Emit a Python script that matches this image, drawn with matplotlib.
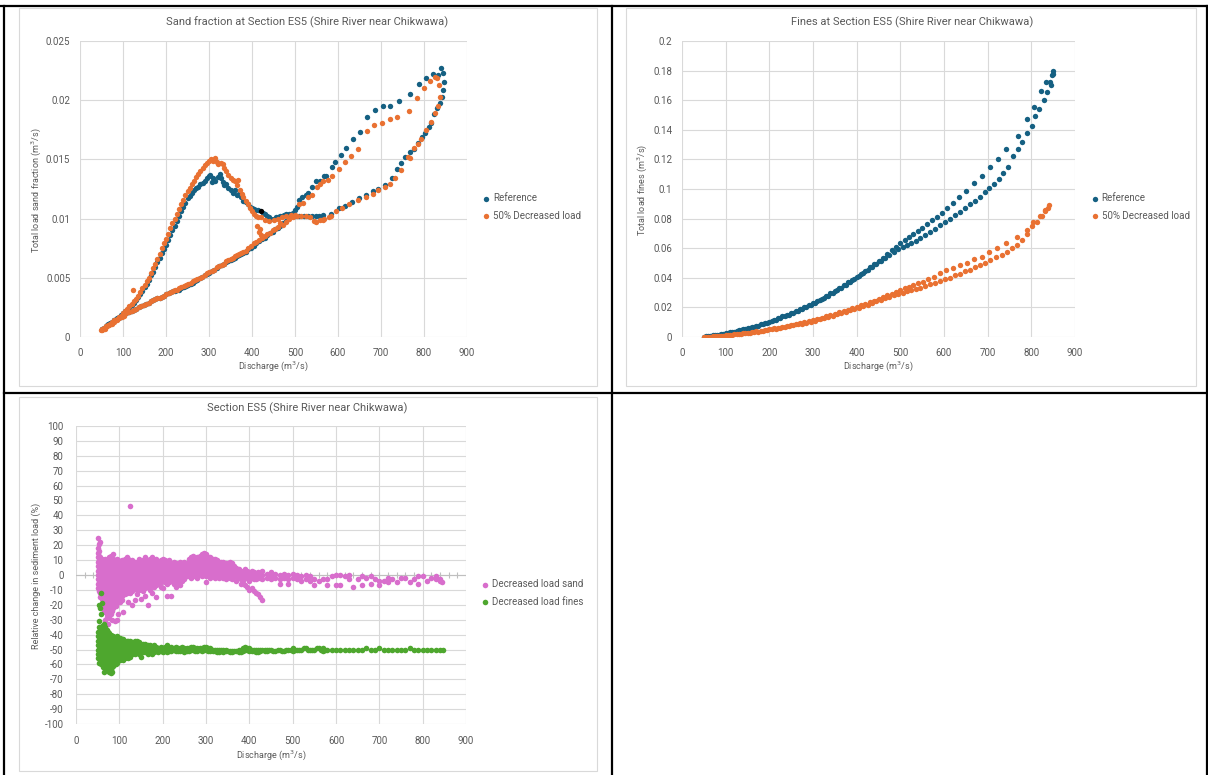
import numpy as np
import matplotlib
matplotlib.use("Agg")
import matplotlib.pyplot as plt
from matplotlib.lines import Line2D
from matplotlib.patches import Rectangle

plt.rcParams['font.family'] = ['Roboto', 'DejaVu Sans']

W, H = 1208, 775
TXT = '#595959'
GRID = '#d9d9d9'
C_REF = '#156082'
C_DEC = '#E97132'
C_SAND = '#D86ECC'
C_FINE = '#4EA72E'

# ---------------- sand fraction (m3/s) : (Q, value) ----------------
sand_ref = [
    (50, .0007), (55, .0008), (60, .0009), (65, .0011), (70, .0012), (75, .0013), (80, .0014), (85, .0016),
    (90, .0017), (95, .0019), (100, .0020), (105, .0022), (110, .0023), (115, .0025), (120, .0027), (125, .0029),
    (130, .0031), (135, .0034), (140, .0036), (145, .0039), (150, .0042), (155, .0045), (160, .0048), (165, .0052),
    (170, .0055), (175, .0059), (180, .0063), (185, .0067), (190, .0071), (195, .0074), (200, .0078), (205, .0082),
    (210, .0086), (215, .0090), (220, .0094), (225, .0098), (230, .0102), (235, .0106), (240, .0110), (245, .0113),
    (250, .0117), (255, .0119), (260, .0122), (265, .0124), (270, .0126), (275, .0127), (280, .0129), (285, .0130),
    (290, .0132), (295, .0134), (300, .0136), (303, .0137), (306, .0131), (310, .0134), (315, .0132), (320, .0135),
    (325, .0138), (328, .0134), (332, .0131), (336, .0128), (340, .0129), (345, .0126), (350, .0124), (355, .0122),
    (360, .0124), (365, .0120), (370, .0121), (375, .0118), (380, .0115), (385, .0114), (390, .0112), (395, .0110),
    (400, .0109), (405, .0108), (410, .0107), (415, .0107), (425, .0105), (430, .0104), (435, .0102), (440, .0101),
    (445, .0100), (450, .0100), (455, .0101), (460, .0101), (465, .0102), (470, .0102), (475, .0103), (480, .0104),
    (485, .0104), (490, .0104), (495, .0105), (500, .0107), (505, .0110), (509, .0116), (517, .0118), (525, .0120),
    (531, .0122), (540, .0127), (548, .0132), (557, .0132), (567, .0136), (572, .0136), (585, .0144), (594, .0148),
    (606, .0154), (619, .0160), (634, .0167), (650, .0173), (667, .0186), (687, .0192), (704, .0195), (721, .0195),
    (742, .0199), (768, .0205), (789, .0214), (805, .0219), (821, .0222), (833, .0221), (840, .02275), (844, .0223),
    (846, .0215), (844, .0209), (842, .0203), (838, .0198), (831, .0193), (823, .0188), (817, .0181), (811, .0177),
    (802, .0172), (795, .0169), (786, .0164), (777, .0159), (768, .0156), (755, .0152), (746, .0147), (737, .0142),
    (725, .0134), (710, .0128), (693, .0125), (681, .0123), (665, .0120), (648, .0117), (633, .0114), (617, .0111),
    (602, .0109), (583, .0104), (565, .0103), (556, .0102), (548, .0102), (540, .0102), (531, .0102), (520, .0102),
    (509, .0102), (500, .0102), (494, .0102), (486, .0101), (478, .0098), (471, .0096), (465, .0094), (460, .0092),
    (454, .0091), (448, .0089), (442, .0088), (435, .0086), (430, .0084), (424, .0083), (417, .0081), (410, .0079),
    (404, .0077), (397, .0075), (391, .0074), (386, .0072), (380, .0071), (375, .0070), (370, .0069), (365, .0068),
    (360, .0067), (355, .0066), (350, .0065), (345, .0064), (340, .0063), (335, .0062), (330, .0061), (324, .0060),
    (318, .0058), (312, .0057), (306, .0056), (301, .0054), (295, .0053), (290, .0052), (284, .0051), (278, .0050),
    (273, .0048), (268, .0047), (262, .0046), (257, .0045), (252, .0044), (247, .0043), (241, .0042), (236, .0041),
    (231, .0040), (226, .0040), (221, .0039), (216, .0039), (211, .0038), (206, .0037), (200, .0036), (195, .0035),
    (190, .0034), (185, .0033), (180, .0033), (175, .0032), (170, .0031), (165, .0030), (160, .0029), (154, .0028),
    (148, .0027), (143, .0026), (137, .0025), (131, .0024), (125, .0023), (120, .0022), (114, .0021), (108, .0020),
    (102, .0019), (97, .0018), (91, .0016), (85, .0015), (80, .0014), (74, .0012), (68, .0011), (62, .0010),
    (57, .0008), (52, .0007),
]
sand_ref_marked = [(420, .0106)]  # the single black point

sand_dec = [
    (48, .0006), (52, .0007), (56, .0008), (60, .0009), (65, .0010), (70, .0011), (75, .0013), (80, .0014),
    (85, .0015), (90, .0017), (95, .0018), (100, .0020), (105, .0022), (110, .0024), (115, .0026), (120, .0028),
    (124, .0040), (125, .0030), (130, .0032), (135, .0035), (140, .0038), (145, .0041), (150, .0044), (155, .0047),
    (160, .0050), (165, .0054), (170, .0058), (175, .0062), (180, .0066), (185, .0070), (190, .0075), (195, .0079),
    (200, .0083), (205, .0087), (210, .0092), (215, .0096), (220, .0100), (225, .0104), (230, .0108), (235, .0112),
    (240, .0116), (245, .0120), (250, .0123), (255, .0126), (260, .0129), (265, .0132), (270, .0135), (275, .0138),
    (280, .0140), (285, .0143), (290, .0145), (295, .0147), (300, .0149), (305, .0150), (310, .0149), (313, .0151),
    (318, .0148), (322, .0146), (327, .0147), (332, .0146), (336, .0143), (340, .0140), (345, .0137), (350, .0134),
    (355, .0133), (360, .0132), (365, .0128), (368, .0133), (372, .0124), (376, .0121), (380, .0118), (385, .0115),
    (390, .0112), (395, .0109), (400, .0106), (405, .0104), (410, .0102), (415, .0101), (420, .0101), (430, .0099),
    (440, .0098), (450, .0099), (460, .0100), (470, .0101), (480, .0102), (490, .0103), (500, .0103), (509, .0112),
    (519, .0113), (531, .0118), (539, .0120), (552, .0127), (558, .0129), (565, .0132), (576, .0133), (586, .0136),
    (602, .0142), (617, .0148), (630, .0153), (647, .0159), (667, .0174), (684, .0179), (702, .0181), (720, .0184),
    (738, .0186), (764, .0191), (783, .0202), (800, .0210), (815, .0216), (826, .0220), (831, .0219),
    (412, .0094), (417, .0089), (420, .0086), (418, .0091),
    (836, .0213), (838, .0203), (833, .0195), (826, .0189), (817, .0182), (805, .0175), (793, .0167), (785, .0163),
    (777, .0160), (768, .0151), (763, .0152), (747, .0141), (733, .0134), (721, .0129), (710, .0127), (694, .0124),
    (681, .0121), (664, .0118), (647, .0116), (625, .0112), (609, .0109), (595, .0106), (583, .0102), (579, .0101),
    (567, .0100), (564, .0099), (557, .0099), (548, .0097), (544, .0098), (535, .0101), (525, .0102), (515, .0102),
    (505, .0102), (495, .0101), (486, .0100), (478, .0097), (472, .0095), (466, .0096), (460, .0093), (454, .0091),
    (448, .0090), (442, .0088), (435, .0087), (430, .0085), (424, .0084), (417, .0082), (410, .0080), (404, .0079),
    (397, .0077), (391, .0075), (386, .0073), (380, .0072), (375, .0071), (370, .0070), (365, .0069), (360, .0068),
    (355, .0067), (350, .0066), (345, .0065), (340, .0064), (335, .0062), (330, .0061), (324, .0060), (318, .0059),
    (312, .0057), (306, .0056), (301, .0055), (295, .0054), (290, .0052), (284, .0051), (278, .0050), (273, .0049),
    (268, .0048), (262, .0047), (257, .0046), (252, .0045), (247, .0044), (241, .0043), (236, .0042), (231, .0041),
    (226, .0040), (221, .0040), (216, .0039), (211, .0038), (206, .0037), (200, .0036), (195, .0035), (190, .0034),
    (185, .0033), (180, .0033), (175, .0032), (170, .0031), (165, .0030), (160, .0029), (154, .0028), (148, .0027),
    (143, .0026), (137, .0025), (131, .0024), (125, .0023), (120, .0022), (114, .0021), (108, .0020), (102, .0018),
    (97, .0017), (91, .0016), (85, .0014), (80, .0013), (74, .0011), (68, .0010), (62, .0009), (57, .0007),
    (52, .0006),
]

# ---------------- fines (m3/s) : (Q, value) ----------------
fines_ref = [
    (50, .0003), (60, .0007), (70, .0011), (80, .0015), (90, .0020), (100, .0025), (110, .0031), (120, .0037),
    (130, .0044), (140, .0052), (150, .0060), (160, .0068), (170, .0077), (180, .0085), (190, .0094), (200, .0104),
    (210, .0115), (220, .0127), (230, .0139), (240, .0152), (250, .0165), (260, .0177), (270, .0189), (280, .0202),
    (290, .0215), (300, .0228), (310, .0244), (320, .0260), (330, .0277), (340, .0295), (350, .0313), (360, .0331),
    (370, .0350), (380, .0369), (390, .0388), (400, .0408), (410, .0428), (420, .0449), (430, .0470), (440, .0491),
    (450, .0512), (460, .0536), (470, .0560), (480, .0585), (490, .0610), (500, .0635), (510, .0656), (520, .0676),
    (530, .0696), (540, .0716), (550, .0738), (560, .0761), (572, .0790), (583, .0813), (595, .0836), (606, .0869),
    (620, .0903), (635, .0944), (650, .0989), (669, .1038), (688, .1090), (705, .1146), (723, .1200), (743, .1268),
    (770, .1360), (791, .1470), (806, .1556), (822, .1660), (833, .1720), (842, .1725), (847, .1770), (850, .1800),
    (849, .1775), (846, .1703), (837, .1658), (828, .1602), (818, .1539), (808, .1490), (801, .1429), (789, .1377),
    (779, .1315), (770, .1270), (759, .1220), (747, .1146), (736, .1108), (725, .1067), (715, .1036), (704, .1007),
    (694, .0977), (683, .0946), (671, .0917), (660, .0899), (648, .0872), (637, .0847), (625, .0822), (614, .0800),
    (603, .0777), (591, .0755), (580, .0730), (568, .0710), (557, .0688), (545, .0667), (535, .0652), (525, .0638),
    (515, .0624), (505, .0610), (495, .0594), (485, .0574), (475, .0553), (465, .0532), (455, .0511), (445, .0490),
    (435, .0470), (425, .0450), (415, .0430), (405, .0410), (395, .0390), (385, .0371), (375, .0352), (365, .0333),
    (355, .0315), (345, .0297), (335, .0280), (325, .0263), (315, .0247), (305, .0231), (295, .0216), (285, .0202),
    (275, .0189), (265, .0176), (255, .0163), (245, .0151), (235, .0139), (225, .0127), (215, .0116), (205, .0105),
    (195, .0095), (185, .0086), (175, .0077), (165, .0069), (155, .0061), (145, .0053), (135, .0046), (125, .0039),
    (115, .0032), (105, .0026), (95, .0021), (85, .0016), (75, .0012), (65, .0008), (55, .0004),
]
fines_dec = [
    (50, .0001), (60, .0003), (70, .0005), (80, .0007), (90, .0009), (100, .0012), (110, .0015), (120, .0018),
    (130, .0022), (140, .0026), (150, .0030), (160, .0034), (170, .0038), (180, .0043), (190, .0048), (200, .0052),
    (210, .0058), (220, .0064), (230, .0070), (240, .0076), (250, .0082), (260, .0088), (270, .0095), (280, .0101),
    (290, .0108), (300, .0114), (310, .0122), (320, .0130), (330, .0139), (340, .0148), (350, .0157), (360, .0166),
    (370, .0175), (380, .0185), (390, .0194), (400, .0204), (410, .0214), (420, .0225), (430, .0236), (440, .0246),
    (450, .0257), (460, .0269), (470, .0281), (480, .0293), (490, .0305), (500, .0318), (510, .0330), (520, .0341),
    (530, .0352), (540, .0362), (553, .0369), (564, .0389), (576, .0407), (591, .0430), (605, .0453), (620, .0464),
    (637, .0486), (652, .0502), (669, .0525), (686, .0543), (704, .0572), (722, .0599), (742, .0633), (767, .0678),
    (789, .0726), (803, .0775), (820, .0820), (831, .0860), (841, .0894),
    (839, .0872), (831, .0850), (824, .0820), (812, .0775), (801, .0748), (789, .0699), (778, .0658), (767, .0625),
    (755, .0598), (744, .0575), (732, .0557), (719, .0539), (705, .0517), (694, .0501), (683, .0485), (671, .0470),
    (660, .0456), (648, .0443), (637, .0429), (625, .0416), (614, .0402), (603, .0389), (591, .0377), (580, .0366),
    (568, .0355), (557, .0344), (545, .0334), (535, .0326), (525, .0318), (515, .0309), (505, .0300), (495, .0292),
    (485, .0283), (475, .0273), (465, .0262), (455, .0251), (445, .0240), (435, .0230), (425, .0219), (415, .0209),
    (405, .0199), (395, .0189), (385, .0180), (375, .0171), (365, .0162), (355, .0153), (345, .0144), (335, .0135),
    (325, .0127), (315, .0119), (305, .0111), (295, .0104), (285, .0097), (275, .0091), (265, .0085), (255, .0079),
    (245, .0073), (235, .0067), (225, .0061), (215, .0056), (205, .0051), (195, .0046), (185, .0041), (175, .0037),
    (165, .0033), (155, .0029), (145, .0025), (135, .0021), (125, .0017), (115, .0014), (105, .0011), (95, .0009),
    (85, .0007), (75, .0005), (65, .0003), (55, .0002),
]

# ---------------- relative change (%) : Q -> values ----------------
chg_sand = [
    (50, [25, 18, 15, 12, 9, 6, 3, 0, -3, -6, -9]), (53, [21, 16, 13, 10, 7, 4, 1, -2, -5, -8, -11]),
    (56, [22, 12, 9, 6, 3, 0, -3, -6, -9, -12, -15]), (59, [11, 8, 5, 2, -1, -4, -7, -10, -13, -16]),
    (62, [10, 7, 4, 1, -2, -5, -8, -11, -14, -17, -20]), (65, [9, 6, 3, 0, -3, -6, -9, -12, -15, -18, -21, -24]),
    (68, [11, 8, 5, 2, -1, -4, -7, -10, -13, -16, -19, -22, -25, -30]),
    (71, [10, 7, 4, 1, -2, -5, -8, -11, -14, -17, -20, -23, -26, -28]),
    (74, [9, 6, 3, 0, -3, -6, -9, -12, -15, -18, -21, -24, -27, -33]),
    (77, [12, 8, 5, 2, -1, -4, -7, -10, -13, -16, -19, -22, -25, -29]),
    (80, [13, 10, 7, 4, 1, -2, -5, -8, -11, -14, -17, -20, -23, -26]),
    (83, [9, 6, 3, 0, -3, -6, -9, -12, -15, -18, -21, -24, -30]),
    (86, [14, 11, 8, 5, 2, -1, -4, -7, -10, -13, -16, -19, -22]),
    (89, [10, 7, 4, 1, -2, -5, -8, -11, -14, -17, -20, -31]),
    (92, [9, 6, 3, 0, -3, -6, -9, -12, -15, -18, -21]),
    (95, [11, 8, 5, 2, -1, -4, -7, -10, -13, -16, -19, -30]),
    (98, [10, 7, 4, 1, -2, -5, -8, -11, -14, -17, -26]), (101, [9, 6, 3, 0, -3, -6, -9, -12, -15, -18]),
    (105, [10, 7, 4, 1, -2, -5, -8, -11, -14, -17]), (109, [9, 6, 3, 0, -3, -6, -9, -12, -25]),
    (113, [11, 8, 5, 2, -1, -4, -7, -10, -13]), (117, [12, 9, 6, 3, 0, -3, -6, -9, -12]),
    (121, [11, 8, 5, 2, -1, -4, -7, -10, -18]), (125, [46, 9, 6, 3, 0, -3, -6, -9, -12]),
    (130, [10, 7, 4, 1, -2, -5, -8, -11, -20]), (135, [9, 6, 3, 0, -3, -6, -9, -17]),
    (140, [8, 5, 2, -1, -4, -7, -10, -13]), (145, [11, 8, 5, 2, -1, -4, -7, -10]),
    (150, [9, 6, 3, 0, -3, -6, -9, -16]), (155, [10, 7, 4, 1, -2, -5, -8, -11]),
    (160, [12, 9, 6, 3, 0, -3, -6, -9, -14]), (165, [10, 7, 4, 1, -2, -5, -8, -20]),
    (170, [11, 8, 5, 2, -1, -4, -7, -10]), (175, [12, 9, 6, 3, 0, -3, -6, -12]),
    (180, [10, 7, 4, 1, -2, -5, -8]), (185, [11, 8, 5, 2, -1, -4, -7, -15]), (190, [9, 6, 3, 0, -3, -6]),
    (195, [10, 7, 4, 1, -2, -5, -8]), (200, [11, 8, 5, 2, -1, -4, -9]), (205, [10, 7, 4, 1, -2, -5]),
    (210, [9, 6, 3, 0, -3, -6, -14]), (215, [10, 7, 4, 1, -2, -5]), (220, [8, 5, 2, -1, -4, -14]),
    (225, [9, 6, 3, 0, -3, -6]), (230, [8, 5, 2, -1, -4, -8]), (235, [7, 4, 1, -2, -5]),
    (240, [9, 6, 3, 0, -3, -7]), (245, [8, 5, 2, -1, -4]), (250, [9, 6, 3, 0, -3]), (255, [8, 5, 2, -1]),
    (260, [11, 8, 5, 2, -1]), (265, [12, 9, 6, 3, 0, -2]), (270, [13, 10, 7, 4, 1, -1]), (275, [11, 8, 5, 2, -1]),
    (280, [12, 9, 6, 3, 0, -2]), (285, [13, 10, 7, 4, 1]), (290, [14, 11, 8, 5, 2, -1]),
    (295, [15, 12, 9, 6, 3, 0]), (300, [14, 11, 8, 5, 2, -1, -5]), (305, [12, 9, 6, 3, 0]),
    (310, [12, 9, 6, 3, 0, -2]), (315, [11, 8, 5, 2, -1]), (320, [11, 8, 5, 2, 0, -2]), (325, [10, 7, 4, 1, -1]),
    (330, [9, 6, 3, 0, -2]), (335, [9, 6, 3, 0]), (340, [9, 6, 3, 0, -2]), (345, [8, 5, 2, -1, -3]),
    (350, [8, 5, 2, 0]), (355, [9, 6, 3, 0, -2]), (360, [8, 5, 2, -1, -3]), (365, [6, 3, 0, -1]),
    (370, [5, 2, -1, -4]), (375, [4, 1, -2]), (380, [3, 0, -3, -6]), (385, [2, -1, -4]), (390, [4, 1, -2, -7]),
    (395, [3, 0, -2, -8]), (400, [2, -1, -4, -10]), (405, [3, 0, -2, -9]), (410, [2, 0, -3, -11]),
    (415, [1, -1, -3, -12]), (420, [2, 0, -2, -13]), (425, [1, -2, -15]), (430, [3, 0, -3, -17]), (440, [1, -2]),
    (450, [2, -1, -3]), (460, [1, -2]), (470, [0, -3, -6]), (480, [1, -2]), (490, [0, -3, -6]), (500, [1, -2]),
    (510, [0, -3]), (520, [-1, -4]), (530, [0, -3]), (540, [-1, -4]), (550, [-3, -7]), (560, [-4]), (570, [-3]),
    (580, [-3, -7]), (590, [-1]), (600, [0, -7]), (610, [0, -7]), (620, [-1]), (630, [0, -3]), (640, [-8]),
    (650, [-3]), (660, [-1, -7]), (670, [-2]), (680, [-1, -6]), (690, [-3]), (700, [-4, -7]), (710, [-4]),
    (720, [-2, -5]), (730, [-3]), (740, [-5]), (750, [-2]), (760, [-2]), (770, [-5]), (780, [-3]),
    (790, [-6, -1]), (800, [-1]), (810, [-4]), (820, [-2]), (830, [-1, -3]), (840, [-4, -3]), (845, [-5]),
]
chg_fines = [
    (50, [-38, -41, -44, -47, -50, -53, -56]), (52, [-20, -31, -35, -38, -41, -44, -47, -50, -53, -56, -59]),
    (55, [-22, -36, -39, -42, -45, -48, -51, -54, -57]),
    (57, [-12, -26, -37, -40, -43, -46, -49, -52, -55, -58, -60]),
    (60, [-19, -34, -37, -40, -43, -46, -49, -52, -55, -58]), (62, [-35, -38, -41, -44, -47, -50, -53, -56, -59, -62]),
    (65, [-33, -36, -39, -42, -45, -48, -51, -54, -57, -60, -65]),
    (68, [-35, -38, -41, -44, -47, -50, -53, -56, -59, -62]),
    (71, [-37, -40, -43, -46, -49, -52, -55, -58, -61, -63]),
    (74, [-38, -41, -44, -47, -50, -53, -56, -59, -62, -64]),
    (77, [-39, -42, -45, -48, -51, -54, -57, -60, -63, -65]),
    (80, [-40, -43, -46, -49, -52, -55, -58, -61, -64, -66]), (83, [-41, -44, -47, -50, -53, -56, -59, -62, -65]),
    (86, [-41, -44, -47, -50, -53, -56, -59, -61]), (89, [-42, -45, -48, -51, -54, -57, -60]),
    (92, [-42, -45, -48, -51, -54, -57, -60]), (95, [-41, -44, -47, -50, -53, -56, -59]),
    (98, [-42, -45, -48, -51, -54, -57]), (101, [-42, -45, -48, -51, -54, -57]), (105, [-43, -46, -49, -52, -55]),
    (109, [-43, -46, -49, -52, -55, -57]), (113, [-44, -47, -50, -53, -56]), (117, [-44, -47, -50, -53, -55]),
    (121, [-44, -47, -50, -53, -56]), (125, [-44, -47, -50, -53, -55]), (130, [-45, -48, -51, -53]),
    (135, [-44, -47, -50, -53]), (140, [-44, -47, -50, -52]), (145, [-45, -48, -51, -53]),
    (150, [-46, -49, -52, -55]), (155, [-46, -49, -52]), (160, [-46, -49, -52]), (165, [-47, -50, -53]),
    (170, [-47, -50, -52]), (175, [-48, -51, -53]), (180, [-47, -50, -52]), (185, [-48, -51]), (190, [-49, -52]),
    (195, [-48, -51]), (200, [-49, -52]), (205, [-48, -50]), (210, [-47, -50, -52]), (215, [-49, -51]),
    (220, [-48, -51]), (225, [-49, -50]), (230, [-48, -51]), (235, [-49, -51]), (240, [-49, -51]),
    (245, [-48, -50]), (250, [-49, -52]), (255, [-49, -51]), (260, [-49, -51]), (265, [-48, -50]),
    (270, [-48, -50]), (275, [-49, -51]), (280, [-49, -51]), (285, [-49, -50]), (290, [-49, -51]),
    (295, [-48, -50]), (300, [-48, -50]), (305, [-49, -51]), (310, [-49, -51]), (315, [-50, -51]),
    (320, [-50, -51]), (325, [-50, -52]), (330, [-50, -52]), (335, [-50, -51]), (340, [-50, -52]),
    (345, [-50, -51]), (350, [-51]), (355, [-51, -52]), (360, [-51, -52]), (365, [-51]), (370, [-51]),
    (375, [-50, -52]), (380, [-50, -52]), (385, [-49, -51]), (390, [-48, -50]), (395, [-49, -50]),
    (400, [-49, -51]), (405, [-50, -51]), (410, [-50, -51]), (415, [-50, -52]), (420, [-50, -52]),
    (425, [-50, -51]), (430, [-50]), (435, [-50, -51]), (440, [-50, -51]), (445, [-50]), (450, [-50]),
    (455, [-51]), (460, [-51]), (465, [-50]), (470, [-50]), (475, [-51]), (480, [-51]), (485, [-50]),
    (490, [-50]), (495, [-50]), (500, [-49, -51]), (505, [-50]), (510, [-50]), (515, [-50]), (520, [-50]),
    (525, [-49]), (530, [-49]), (535, [-50]), (540, [-50]), (545, [-50]), (550, [-50]), (555, [-49]),
    (560, [-49]), (565, [-50]), (570, [-49, -51]), (575, [-50]), (580, [-50]), (590, [-50]), (600, [-50]),
    (610, [-50]), (620, [-50]), (630, [-50]), (640, [-50]), (650, [-50]), (660, [-50]), (670, [-49]),
    (680, [-50]), (690, [-50]), (700, [-49]), (710, [-50]), (720, [-50]), (730, [-50]), (740, [-50]),
    (750, [-50]), (760, [-50]), (770, [-49]), (780, [-50]), (790, [-50]), (800, [-50]), (810, [-50]),
    (820, [-50]), (830, [-50]), (840, [-50]), (848, [-50]),
]


def fx(px):
    return px / W


def fy(py):
    return 1 - py / H


def flat(groups):
    q = [g[0] for g in groups for _ in g[1]]
    v = [x for g in groups for x in g[1]]
    return np.array(q), np.array(v)


def style_axes(ax, xlim, ylim, yticks, yfmt, xpad=8, ypad=7):
    ax.set_xlim(*xlim)
    ax.set_ylim(*ylim)
    ax.set_xticks(np.arange(0, 901, 100))
    ax.set_yticks(yticks)
    ax.set_yticklabels([yfmt(t) for t in yticks])
    ax.grid(True, color=GRID, linewidth=0.8)
    ax.set_axisbelow(True)
    for s in ax.spines.values():
        s.set_visible(False)
    ax.tick_params(length=0, labelsize=7, labelcolor=TXT)
    ax.tick_params(axis='x', pad=xpad)
    ax.tick_params(axis='y', pad=ypad)


def g(t):
    return ('%.3f' % t).rstrip('0').rstrip('.') if t != 0 else '0'


def add_legend(ax, x, y):
    ax.legend(loc='center left', bbox_to_anchor=(fx(x), fy(y)), bbox_transform=fig.transFigure,
              frameon=False, fontsize=7, labelcolor=TXT, handlelength=0.5, handletextpad=0.4,
              labelspacing=0.75, borderpad=0, borderaxespad=0, scatterpoints=1)


fig = plt.figure(figsize=(W / 100, H / 100), dpi=100)
fig.patch.set_facecolor('white')

# chart-area frames and table borders
for (x0, y0, x1, y1) in [(19, 8, 597, 386), (626, 8, 1196, 386), (19, 397, 597, 771)]:
    fig.add_artist(Rectangle((fx(x0), fy(y1)), fx(x1) - fx(x0), fy(y0) - fy(y1),
                             fill=False, edgecolor=GRID, linewidth=0.8, transform=fig.transFigure))
for (xa, ya, xb, yb) in [(0, 6, W, 6), (4, 6, 4, H), (612, 6, 612, H), (4, 393, W, 393), (1207, 6, 1207, H)]:
    fig.add_artist(Line2D([fx(xa), fx(xb)], [fy(ya), fy(yb)], color='black', linewidth=1.6,
                          transform=fig.transFigure))

ms = 15

# ---- chart 1: sand fraction
ax1 = fig.add_axes([fx(80), fy(337), fx(467) - fx(80), fy(41) - fy(337)])
style_axes(ax1, (0, 900), (0, 0.025), np.arange(0, 0.0251, 0.005), g)
q, v = np.array(sand_ref).T
ax1.scatter(q, v, s=ms, color=C_REF, linewidths=0, label='Reference', zorder=3)
q, v = np.array(sand_dec).T
ax1.scatter(q, v, s=ms, color=C_DEC, linewidths=0, label='50% Decreased load', zorder=4)
q, v = np.array(sand_ref_marked).T
ax1.scatter(q, v, s=ms, color='black', linewidths=0, zorder=5)
fig.text(fx(307), fy(22), 'Sand fraction at Section ES5 (Shire River near Chikwawa)', ha='center', va='center',
         fontsize=8, color=TXT)
fig.text(fx(273), fy(366), 'Discharge (m$^3$/s)', ha='center', va='center', fontsize=6.5, color=TXT)
fig.text(fx(36), fy(190), 'Total load sand fraction (m$^3$/s)', ha='center', va='center', rotation=90,
         fontsize=6.5, color=TXT)
add_legend(ax1, 484, 207)

# ---- chart 2: fines
ax2 = fig.add_axes([fx(682), fy(337), fx(1075) - fx(682), fy(41) - fy(337)])
style_axes(ax2, (0, 900), (0, 0.2), np.arange(0, 0.201, 0.02), lambda t: '%g' % round(t, 2))
q, v = np.array(fines_ref).T
ax2.scatter(q, v, s=ms, color=C_REF, linewidths=0, label='Reference', zorder=3)
q, v = np.array(fines_dec).T
ax2.scatter(q, v, s=ms, color=C_DEC, linewidths=0, label='50% Decreased load', zorder=4)
fig.text(fx(912), fy(22), 'Fines at Section ES5 (Shire River near Chikwawa)', ha='center', va='center',
         fontsize=8, color=TXT)
fig.text(fx(878), fy(366), 'Discharge (m$^3$/s)', ha='center', va='center', fontsize=6.5, color=TXT)
fig.text(fx(642), fy(190), 'Total load fines (m$^3$/s)', ha='center', va='center', rotation=90,
         fontsize=6.5, color=TXT)
add_legend(ax2, 1093, 207)

# ---- chart 3: relative change
ax3 = fig.add_axes([fx(76), fy(724), fx(466) - fx(76), fy(426) - fy(724)])
style_axes(ax3, (0, 900), (-100, 100), np.arange(-100, 101, 10), lambda t: '%d' % t, xpad=9, ypad=9)
ax3.axhline(0, color='#bfbfbf', linewidth=0.8, zorder=1)
tq = np.arange(20, 900, 20)
ax3.plot(tq, np.zeros_like(tq), linestyle='none', marker='|', markersize=4, color='#bfbfbf',
         markeredgewidth=0.8, zorder=1)
q, v = flat(chg_sand)
ax3.scatter(q, v, s=16, color=C_SAND, linewidths=0, label='Decreased load sand', zorder=3)
q, v = flat(chg_fines)
ax3.scatter(q, v, s=16, color=C_FINE, linewidths=0, label='Decreased load fines', zorder=4)
fig.text(fx(307), fy(408), 'Section ES5 (Shire River near Chikwawa)', ha='center', va='center',
         fontsize=8, color=TXT)
fig.text(fx(271), fy(755), 'Discharge (m$^3$/s)', ha='center', va='center', fontsize=6.5, color=TXT)
fig.text(fx(36), fy(576), 'Relative change in sediment load (%)', ha='center', va='center', rotation=90,
         fontsize=6.5, color=TXT)
add_legend(ax3, 483, 593)

fig.savefig('out.png', dpi=100)
